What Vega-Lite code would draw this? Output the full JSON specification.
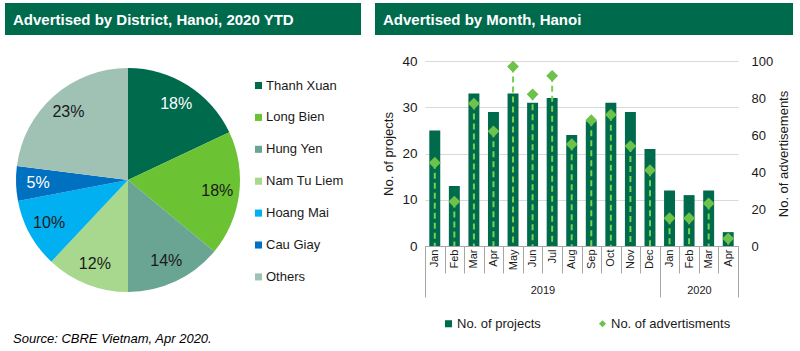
{
  "$schema": "https://vega.github.io/schema/vega-lite/v6.json",
  "padding": {"left": 5, "top": 3, "right": 0, "bottom": 0},
  "config": {
    "font": "Liberation Sans",
    "view": {"stroke": null},
    "axis": {"labelColor": "#1a1a1a", "titleColor": "#1a1a1a", "titleFontWeight": "normal"},
    "legend": {"labelColor": "#1a1a1a"}
  },
  "title": {
    "text": "Source: CBRE Vietnam, Apr 2020.",
    "orient": "bottom",
    "anchor": "start",
    "fontStyle": "italic",
    "fontWeight": "normal",
    "fontSize": 13,
    "color": "#000000",
    "offset": 2,
    "dx": 8
  },
  "spacing": 19,
  "resolve": {"scale": {"color": "independent"}},
  "vconcat": [
    {
      "spacing": 14,
      "hconcat": [
        {
          "width": 356,
          "height": 32,
          "data": {"values": [{"header": "Advertised by District, Hanoi, 2020 YTD"}]},
          "view": {"fill": "#006A4D", "stroke": null},
          "mark": {"type": "text", "align": "left", "baseline": "alphabetic", "color": "#ffffff", "fontSize": 15, "fontWeight": "bold"},
          "encoding": {
            "text": {"field": "header"},
            "x": {"value": 8},
            "y": {"value": 22}
          }
        },
        {
          "width": 418,
          "height": 32,
          "data": {"values": [{"header": "Advertised by Month, Hanoi"}]},
          "view": {"fill": "#006A4D", "stroke": null},
          "mark": {"type": "text", "align": "left", "baseline": "alphabetic", "color": "#ffffff", "fontSize": 15, "fontWeight": "bold"},
          "encoding": {
            "text": {"field": "header"},
            "x": {"value": 8},
            "y": {"value": 22}
          }
        }
      ]
    },
    {
      "spacing": 38,
      "resolve": {"scale": {"color": "independent"}},
      "hconcat": [
        {
          "width": 246,
          "height": 238,
          "data": {
            "values": [
              {"district": "Thanh Xuan", "share": 0.18, "idx": 1},
              {"district": "Long Bien", "share": 0.18, "idx": 2},
              {"district": "Hung Yen", "share": 0.14, "idx": 3},
              {"district": "Nam Tu Liem", "share": 0.12, "idx": 4},
              {"district": "Hoang Mai", "share": 0.10, "idx": 5},
              {"district": "Cau Giay", "share": 0.05, "idx": 6},
              {"district": "Others", "share": 0.23, "idx": 7}
            ]
          },
          "encoding": {
            "theta": {"field": "share", "type": "quantitative", "stack": true},
            "order": {"field": "idx", "type": "quantitative"},
            "color": {
              "field": "district",
              "type": "nominal",
              "scale": {
                "domain": ["Thanh Xuan", "Long Bien", "Hung Yen", "Nam Tu Liem", "Hoang Mai", "Cau Giay", "Others"],
                "range": ["#006A4D", "#6BC232", "#6AA594", "#A8D88E", "#00B0F0", "#0070C0", "#9FC2B5"]
              },
              "legend": {
                "orient": "none",
                "legendX": 247,
                "legendY": 18,
                "title": null,
                "symbolType": "square",
                "symbolSize": 50,
                "labelFontSize": 13,
                "rowPadding": 17.9,
                "labelOffset": 1,
                "padding": 0
              }
            }
          },
          "layer": [
            {"mark": {"type": "arc", "outerRadius": 112}},
            {
              "mark": {"type": "text", "radius": 90, "fontSize": 16},
              "encoding": {
                "text": {"field": "share", "type": "quantitative", "format": ".0%"},
                "color": {
                  "condition": {"test": "datum.district == 'Thanh Xuan' || datum.district == 'Cau Giay'", "value": "#ffffff"},
                  "value": "#1a1a1a"
                }
              }
            }
          ]
        },
        {
          "width": 313,
          "height": 185,
          "data": {
            "values": [
              {"period": "Jan 2019", "projects": 25, "ads": 45},
              {"period": "Feb 2019", "projects": 13, "ads": 24},
              {"period": "Mar 2019", "projects": 33, "ads": 77},
              {"period": "Apr 2019", "projects": 29, "ads": 62},
              {"period": "May 2019", "projects": 33, "ads": 97},
              {"period": "Jun 2019", "projects": 31, "ads": 82},
              {"period": "Jul 2019", "projects": 32, "ads": 92},
              {"period": "Aug 2019", "projects": 24, "ads": 55},
              {"period": "Sep 2019", "projects": 27, "ads": 68},
              {"period": "Oct 2019", "projects": 31, "ads": 71},
              {"period": "Nov 2019", "projects": 29, "ads": 54},
              {"period": "Dec 2019", "projects": 21, "ads": 41},
              {"period": "Jan 2020", "projects": 12, "ads": 15},
              {"period": "Feb 2020", "projects": 11, "ads": 15},
              {"period": "Mar 2020", "projects": 12, "ads": 23},
              {"period": "Apr 2020", "projects": 3, "ads": 4}
            ]
          },
          "layer": [
            {
              "mark": {"type": "bar", "width": {"band": 0.56}},
              "encoding": {
                "x": {
                  "field": "period",
                  "type": "nominal",
                  "sort": null,
                  "scale": {"paddingInner": 0, "paddingOuter": 0},
                  "axis": {
                    "orient": "bottom",
                    "title": null,
                    "labelExpr": "isString(datum.value) ? split(datum.value, ' ')[0] : ''",
                    "labelAngle": -90,
                    "labelAlign": "right",
                    "labelBaseline": "middle",
                    "labelPadding": -24,
                    "labelFontSize": 11,
                    "labelOverlap": false,
                    "tickBand": "extent",
                    "tickSize": 27,
                    "tickColor": "#A6A6A6",
                    "domainColor": "#A6A6A6",
                    "grid": false
                  }
                },
                "y": {
                  "field": "projects",
                  "type": "quantitative",
                  "scale": {"domain": [0, 40]},
                  "axis": {
                    "orient": "left",
                    "title": "No. of projects",
                    "values": [0, 10, 20, 30, 40],
                    "domain": false,
                    "ticks": false,
                    "labelPadding": 8,
                    "labelFontSize": 13.5,
                    "titleFontSize": 13,
                    "titlePadding": 6,
                    "grid": true,
                    "gridColor": "#D9D9D9"
                  }
                },
                "color": {
                  "datum": "No. of projects",
                  "type": "nominal",
                  "scale": {"domain": ["No. of projects", "No. of advertisments"], "range": ["#006A4D", "#6CC24A"]},
                  "legend": {
                    "orient": "none",
                    "legendX": 17,
                    "legendY": 256,
                    "direction": "horizontal",
                    "title": null,
                    "symbolSize": 50,
                    "labelFontSize": 13,
                    "labelOffset": 2,
                    "columnPadding": 55,
                    "padding": 0,
                    "encode": {
                      "symbols": {
                        "update": {
                          "shape": {"signal": "datum.value === 'No. of projects' ? 'square' : 'diamond'"}
                        }
                      }
                    }
                  }
                }
              }
            },
            {
              "encoding": {
                "x": {
                  "field": "period",
                  "type": "nominal",
                  "sort": null,
                  "scale": {"paddingInner": 0, "paddingOuter": 0},
                  "axis": {
                    "orient": "bottom",
                    "title": null,
                    "labelExpr": "datum.value == 'Jul 2019' ? '2019' : datum.value == 'Mar 2020' ? '2020' : ''",
                    "labelAngle": 0,
                    "labelAlign": "center",
                    "labelBaseline": "top",
                    "labelOffset": -9.78,
                    "labelPadding": -13,
                    "labelFontSize": 11,
                    "labelOverlap": false,
                    "tickBand": "extent",
                    "tickSize": 51,
                    "tickColor": {
                      "condition": {"test": "datum.index < 0 || datum.value == 'Dec 2019' || datum.value == 'Apr 2020'", "value": "#A6A6A6"},
                      "value": "transparent"
                    },
                    "domain": false,
                    "grid": false
                  }
                },
                "y": {
                  "field": "ads",
                  "type": "quantitative",
                  "scale": {"domain": [0, 100]},
                  "axis": {
                    "orient": "right",
                    "title": "No. of advertisements",
                    "values": [0, 20, 40, 60, 80, 100],
                    "domain": false,
                    "ticks": false,
                    "grid": false,
                    "labelPadding": 13,
                    "labelFontSize": 13,
                    "titleFontSize": 13,
                    "titleAngle": 270,
                    "titleBaseline": "top",
                    "titlePadding": 5
                  }
                }
              },
              "layer": [
                {
                  "mark": {"type": "rule", "strokeDash": [6, 4], "strokeWidth": 2, "color": "#78D04F"},
                  "encoding": {"y2": {"datum": 0}}
                },
                {
                  "mark": {"type": "point", "shape": "diamond", "filled": true, "size": 140, "opacity": 1},
                  "encoding": {
                    "color": {"datum": "No. of advertisments", "type": "nominal"}
                  }
                }
              ]
            }
          ],
          "resolve": {"scale": {"y": "independent"}, "axis": {"x": "independent"}}
        }
      ]
    }
  ]
}
